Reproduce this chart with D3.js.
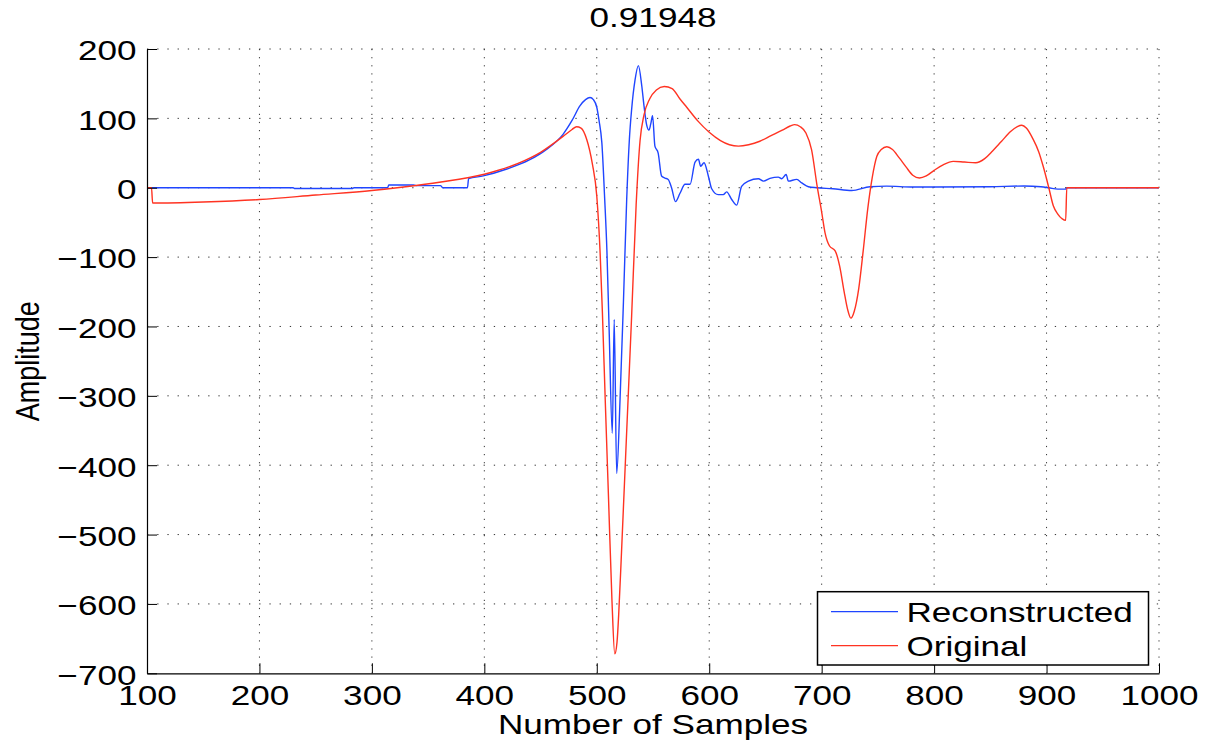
<!DOCTYPE html>
<html>
<head>
<meta charset="utf-8">
<script src="https://d3js.org/d3.v7.min.js"></script>
<style>
  html, body { margin: 0; padding: 0; background: #fff; }
  svg { display: block; }
  text { font-family: "Liberation Sans", Arial, Helvetica, sans-serif; fill: #000; }
</style>
</head>
<body>
<svg id="chart" width="1211" height="744"></svg>
<script>
// ---------------- data ----------------
const titleText = "0.91948";
const xLabelText = "Number of Samples";
const yLabelText = "Amplitude";
const seriesNames = ["Reconstructed", "Original"];
const xTicks = [100, 200, 300, 400, 500, 600, 700, 800, 900, 1000];
const yTicks = [200, 100, 0, -100, -200, -300, -400, -500, -600, -700];

const origX = [100, 104, 105, 150, 200, 250, 300, 330, 360, 400, 430, 450, 470, 478, 482, 486, 491, 496,
  500, 503, 505, 507.5, 510.5, 513.5, 516, 518, 519.5, 522, 526.5, 531, 535, 538.5, 542, 547, 553, 560,
  567, 574, 580, 590, 600, 610, 618, 626, 635, 645, 655, 665, 672, 676, 681, 686, 691, 696, 700, 703,
  707, 712, 716, 720, 723, 726, 729, 733, 737, 741, 745, 749, 753, 758, 763, 769, 775, 781, 787, 793,
  800, 808, 817, 827, 837, 845, 852, 860, 868, 874, 878, 882, 888, 893, 897, 902, 906, 910, 914, 917,
  918, 1000];
const origY = [0, 0, -22, -20.5, -17, -10.5, -4, 1.5, 8, 19.5, 35, 51, 74, 84, 88, 86, 70, 35,
  -12, -95, -180, -305, -450, -595, -672, -655, -615, -525, -355, -185, -25, 68, 105, 128, 141, 146,
  143, 128, 116, 96, 80, 68, 62, 60, 62, 67, 75, 83, 89, 91, 88, 79, 55, 2, -35, -65,
  -84, -91, -113, -150, -175, -188, -178, -145, -90, -30, 15, 45, 55, 59, 55, 43, 30, 18, 14, 17,
  25, 33, 38, 37, 36, 42, 53, 67, 81, 88, 90, 86, 70, 52, 31, 0, -26, -38, -45, -47,
  0, 0];

const reconX = [100, 230, 231, 283, 284, 314, 315, 337, 340, 361, 363, 385, 386, 399, 420, 440, 455, 470,
  478, 485, 490, 494, 497, 500, 502, 504.5, 507, 509, 511, 513.8, 515.5, 517.7, 520.7, 523.7, 526.6,
  529, 531, 534, 537, 540, 542, 544.3, 546.4, 548, 549.6, 551.7, 554.6, 557.6, 560.6, 563.5, 566.5,
  570, 574, 578.5, 583, 587.4, 590.4, 592.4, 595.4, 599.2, 602.2, 608, 612.5, 615.5, 620, 624.4,
  628.8, 634.8, 643.7, 648.2, 654, 661.4, 664.5, 668.4, 670.4, 677.8, 682.3, 688.2, 695.6, 710,
  726.7, 743, 757.8, 781.5, 800, 850, 880, 895, 902, 910, 917, 918, 1000];
const reconY = [0, 0, -1, -1, 0, 0, 4, 4, 3, 3, 0, 0, 13, 17, 27, 40, 55, 77,
  97, 118, 127, 130, 127, 116, 97, 65, -15, -90, -205, -354, -190, -412, -305, -165, -17,
  70, 113, 155, 176, 147, 118, 91, 83, 92, 104, 60, 50, 17, 14, 12, 0,
  -20, -8, 5, 5, 37, 41, 31, 36, 17, -1.5, -10, -10, -6, -17, -25,
  2, 9.5, 13, 9.5, 13.4, 15.3, 13, 19, 9.5, 12, 7, 1.4, 0, -1.5,
  -4, 1.4, 2.3, 1, 1, 1.5, 2.5, 1.5, 0, -2, -2, 0, 0];

const reconstructed = reconX.map((x, i) => ({ x, y: reconY[i] }));
const original = origX.map((x, i) => ({ x, y: origY[i] }));

// ---------------- layout ----------------
const W = 1211, H = 744;
const margin = { left: 147, top: 49, right: 52, bottom: 70.7 };
const pw = W - margin.left - margin.right;   // 1012
const ph = H - margin.top - margin.bottom;   // ~624.3
const SX = 1.3;       // horizontal text stretch
const FS = 27;        // font size
const blue = "#1f45ff";
const red = "#ff3322";

const svg = d3.select("#chart");
const g = svg.append("g").attr("transform", `translate(${margin.left},${margin.top})`);

const x = d3.scaleLinear().domain([100, 1000]).range([0, pw]);
const y = d3.scaleLinear().domain([-700, 200]).range([ph, 0]);

// grid (dotted)
g.append("g").selectAll("line.vg").data(xTicks.filter(d => d !== 100)).join("line")
  .attr("x1", d => x(d)).attr("x2", d => x(d))
  .attr("y1", 0).attr("y2", ph)
  .attr("stroke", "#333").attr("stroke-width", 1)
  .attr("stroke-dasharray", "1.2,6.9");
g.append("g").selectAll("line.hg").data(yTicks.filter(d => d !== -700)).join("line")
  .attr("x1", 0).attr("x2", pw)
  .attr("y1", d => y(d)).attr("y2", d => y(d))
  .attr("stroke", "#333").attr("stroke-width", 1)
  .attr("stroke-dasharray", "1.3,8.9");

// series
const line = d3.line().x(d => x(d.x)).y(d => y(d.y)).curve(d3.curveMonotoneX);
g.append("path").datum(reconstructed).attr("d", line)
  .attr("fill", "none").attr("stroke", blue).attr("stroke-width", 1.4).attr("stroke-linejoin", "round");
g.append("path").datum(original).attr("d", line)
  .attr("fill", "none").attr("stroke", red).attr("stroke-width", 1.4).attr("stroke-linejoin", "round");

// axes
const yAxis = d3.axisLeft(y).tickValues(yTicks).tickSizeInner(-10).tickSizeOuter(0).tickPadding(8)
  .tickFormat(d => d < 0 ? "\u2212" + Math.abs(d) : String(d));
const xAxis = d3.axisBottom(x).tickValues(xTicks).tickSizeInner(-10).tickSizeOuter(0).tickPadding(13)
  .tickFormat(d => String(d));

const ya = g.append("g").call(yAxis);
const xa = g.append("g").attr("transform", `translate(0,${ph})`).call(xAxis);
[ya, xa].forEach(a => {
  a.select(".domain").attr("stroke", "#000").attr("stroke-width", 1.2);
  a.selectAll(".tick line").attr("stroke", "#000").attr("stroke-width", 1);
  a.selectAll(".tick text")
    .attr("font-size", FS)
    .attr("font-family", "Liberation Sans, Arial, sans-serif")
    .attr("fill", "#000");
});
ya.selectAll(".tick text").attr("dy", "0.4em")
  .attr("transform", `scale(${SX},1)`);
xa.selectAll(".tick text").attr("transform", `scale(${SX},1)`);

// title & labels
svg.append("text").attr("transform", `translate(${margin.left + pw / 2},27) scale(${SX},1)`)
  .attr("text-anchor", "middle").attr("font-size", FS).text(titleText);
svg.append("text").attr("transform", `translate(${margin.left + pw / 2},733.5) scale(${SX},1)`)
  .attr("text-anchor", "middle").attr("font-size", FS).text(xLabelText);
svg.append("text").attr("transform", `translate(39,${margin.top + y(-250)}) scale(1.2,1) rotate(-90)`)
  .attr("text-anchor", "middle").attr("font-size", FS).text(yLabelText);

// legend
const lg = svg.append("g");
lg.append("rect").attr("x", 817.5).attr("y", 591.7).attr("width", 331).attr("height", 73.3)
  .attr("fill", "#fff").attr("stroke", "#000").attr("stroke-width", 1.5);
const legendItems = [{ name: seriesNames[0], color: blue }, { name: seriesNames[1], color: red }];
legendItems.forEach((it, i) => {
  const cy = 611.7 + i * 34;
  lg.append("line").attr("x1", 831).attr("x2", 898).attr("y1", cy).attr("y2", cy)
    .attr("stroke", it.color).attr("stroke-width", 1.3);
  lg.append("text").attr("transform", `translate(906.5,${cy + 10}) scale(${SX},1)`)
    .attr("font-size", FS).text(it.name);
});
</script>
</body>
</html>
